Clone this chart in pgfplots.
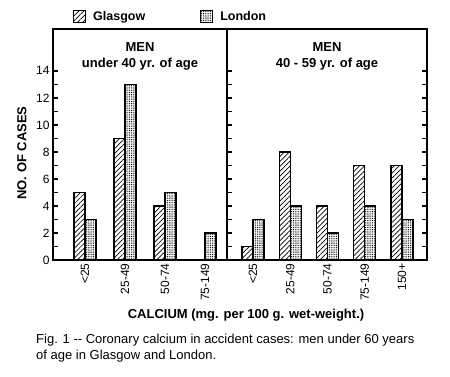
\documentclass[border=0pt]{standalone}
\usepackage{pgfplots}
\pgfplotsset{compat=1.18}
\usepackage{fontspec}
\setmainfont{Liberation Sans}
\usetikzlibrary{patterns.meta}
\pgfplotsset{
  panel/.style={
    scale only axis, anchor=south west,
    height=231pt, ymin=0, ymax=17.1,
    axis line style={line width=1.5pt},
    ybar=0pt, bar width=11pt,
    tick align=inside,
    ytick={0,2,...,14}, minor ytick={1,3,...,13},
    major tick length=5pt, minor tick length=5pt,
    every tick/.style={line width=1.3pt, black},
    major x tick style={draw=none},
    xticklabel style={rotate=90, anchor=east, font=\fontsize{12}{12}\selectfont},
    yticklabel style={font=\fontsize{12}{12}\selectfont},
    /pgf/number format/assume math mode=true,
    title style={at={(0.5,1)}, anchor=north, yshift=-16pt, align=center,
      font=\fontsize{13}{16}\selectfont\bfseries},
    clip=false,
  },
  glas/.style={draw=black, line width=1.3pt,
    pattern={Lines[angle=45,distance=3.5pt,line width=0.7pt]}},
  lond/.style={draw=black, line width=1.3pt,
    pattern={Dots[radius=0.55pt,distance=1.8pt]}},
}
\begin{document}
\begin{tikzpicture}
\useasboundingbox (0pt,0pt) rectangle (450pt,377pt);
\begin{axis}[panel, at={(53pt,117pt)}, width=174pt,
  xmin=-0.8, xmax=3.55,
  xtick={0,1,2,3},
  xticklabels={<25,25-49,50-74,75-149},
  ytick pos=left,
  title={MEN\\under 40 yr. of age},
  legend style={at={(0.115,1)}, anchor=south west, yshift=5pt, draw=none, fill=none,
    legend columns=2, inner sep=0pt,
    font=\fontsize{12.5}{12.5}\selectfont\bfseries,
    /tikz/every odd column/.append style={column sep=5pt},
    /tikz/every even column/.append style={column sep=53pt}},
  legend image code/.code={\draw[#1,line width=1pt] (0pt,-6pt) rectangle (12pt,6pt);},
]
\addplot[glas] coordinates {(0,5) (1,9) (2,4)};
\addplot[lond] coordinates {(0,3) (1,13) (2,5) (3,2)};
\legend{Glasgow,London}
\end{axis}
\begin{axis}[panel, at={(227pt,117pt)}, width=200pt,
  xmin=-0.7, xmax=4.67,
  xtick={0,1,2,3,4},
  xticklabels={<25,25-49,50-74,75-149,150+},
  ytick pos=both, yticklabels={},
  title={MEN\\40 - 59 yr. of age},
]
\addplot[glas] coordinates {(0,1) (1,8) (2,4) (3,7) (4,7)};
\addplot[lond] coordinates {(0,3) (1,4) (2,2) (3,4) (4,3)};
\end{axis}
\node[rotate=90, font=\fontsize{13}{13}\selectfont\bfseries] at (22pt,224pt) {NO. OF CASES};
\node[font=\fontsize{13}{13}\selectfont\bfseries] at (246pt,62pt) {CALCIUM (mg. per 100 g. wet-weight.)};
\node[anchor=north west, align=left, inner sep=0pt, font=\fontsize{13}{16}\selectfont] at (36pt,43pt)
  {Fig. 1 -{}- Coronary calcium in accident cases: men under 60 years\\of age in Glasgow and London.};
\end{tikzpicture}
\end{document}
